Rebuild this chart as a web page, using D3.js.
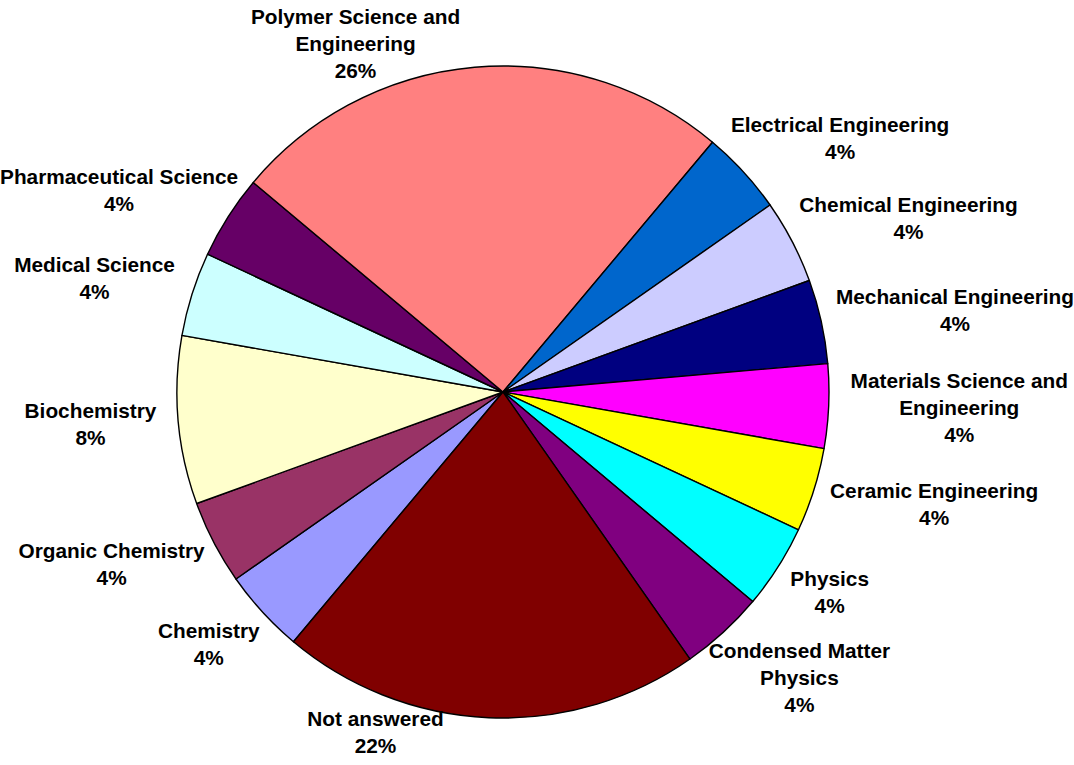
<!DOCTYPE html>
<html>
<head>
<meta charset="utf-8">
<script src="https://cdn.jsdelivr.net/npm/d3@7/dist/d3.min.js"></script>
<style>
  body { margin: 0; background: #fff; }
  svg { display: block; }
</style>
</head>
<body>
<svg id="chart" width="1074" height="765"></svg>
<script>
// slices in drawing order (clockwise, first one starts at ROT degrees)
var categories = ["Chemistry", "Organic Chemistry", "Biochemistry", "Medical Science",
    "Pharmaceutical Science", "Polymer Science and Engineering", "Electrical Engineering",
    "Chemical Engineering", "Mechanical Engineering", "Materials Science and Engineering",
    "Ceramic Engineering", "Physics", "Condensed Matter Physics", "Not answered"];
var counts = [1, 1, 2, 1, 1, 6, 1, 1, 1, 1, 1, 1, 1, 5];
var pctLabels = ["4%", "4%", "8%", "4%", "4%", "26%", "4%", "4%", "4%", "4%", "4%", "4%", "4%", "22%"];
var palette = ["#9999FF", "#993366", "#FFFFCC", "#CCFFFF", "#660066", "#FF8080", "#0066CC",
    "#CCCCFF", "#000080", "#FF00FF", "#FFFF00", "#00FFFF", "#800080", "#800000"];

var W = 1074, H = 765;
var CX = 503, CY = 392, R = 326;
var ROT = 220;          // start angle, degrees clockwise from 12 o'clock
var GAP = 22;           // distance between pie edge and label box
var LINE = 27;          // label line height
var WRAP = 245;         // max label line width before wrapping
var EDGE = 4;           // min room kept at top/bottom for moved labels

var svg = d3.select("#chart");

var data = categories.map(function (c, i) {
    return { name: c, count: counts[i], pct: pctLabels[i] };
});

var color = d3.scaleOrdinal().domain(categories).range(palette);

var a0 = ROT * Math.PI / 180;
var pie = d3.pie()
    .sort(null)
    .value(function (d) { return d.count; })
    .startAngle(a0)
    .endAngle(a0 + 2 * Math.PI);

var arc = d3.arc().innerRadius(0).outerRadius(R);
var arcs = pie(data);

var gPie = svg.append("g")
    .attr("transform", "translate(" + CX + "," + CY + ")");

gPie.selectAll("path.slice")
    .data(arcs)
    .enter().append("path")
    .attr("class", "slice")
    .attr("d", arc)
    .attr("fill", function (d) { return color(d.data.name); })
    .attr("stroke", "#000")
    .attr("stroke-width", 1.4)
    .attr("stroke-linejoin", "round");

// labels
var gLab = svg.append("g").attr("class", "labels");

var label = gLab.selectAll("text")
    .data(arcs)
    .enter().append("text")
    .attr("text-anchor", "middle")
    .attr("fill", "#000")
    .style("font-family", "'Liberation Sans', Arial, sans-serif")
    .style("font-weight", "bold")
    .style("font-size", "20.8px");

function boxPos(a, hw, hh) {
    var ux = Math.sin(a), uy = -Math.cos(a);
    return [CX + (R + GAP) * ux + hw * ux, CY + (R + GAP) * uy + hh * uy];
}

label.each(function (d) {
    var t = d3.select(this);

    // greedy word wrap on the category name
    var words = d.data.name.split(" ");
    var lines = [], cur = "";
    var probe = t.append("tspan");
    words.forEach(function (w) {
        var test = cur ? cur + " " + w : w;
        probe.text(test);
        if (cur && probe.node().getComputedTextLength() > WRAP) {
            lines.push(cur);
            cur = w;
        } else {
            cur = test;
        }
    });
    lines.push(cur);
    lines.push(d.data.pct);
    probe.remove();

    var n = lines.length;
    lines.forEach(function (s, i) {
        t.append("tspan")
            .attr("x", 0)
            .attr("y", -n * LINE / 2 + LINE * i + 20)
            .text(s);
    });

    var hw = this.getBBox().width / 2;
    var hh = n * LINE / 2;
    var mid = (d.startAngle + d.endAngle) / 2;
    var p = boxPos(mid, hw, hh);

    // label runs off the top/bottom: slide it round the pie until it fits
    if (p[1] - hh < 0 || p[1] + hh > H) {
        var Rl = R + GAP / 2 + hh, step = Math.PI / 360, found = false;
        for (var k = 1; k < 360 && !found; k++) {
            [-1, 1].forEach(function (dir) {
                if (found) return;
                var a = mid + dir * k * step;
                var y = CY - Rl * Math.cos(a);
                if (y - hh >= EDGE && y + hh <= H - EDGE) {
                    p = [CX + Rl * Math.sin(a), y];
                    found = true;
                }
            });
        }
    }

    p[0] = Math.max(hw, Math.min(W - hw, p[0]));
    t.attr("transform", "translate(" + p[0] + "," + p[1] + ")");
});
</script>
</body>
</html>
